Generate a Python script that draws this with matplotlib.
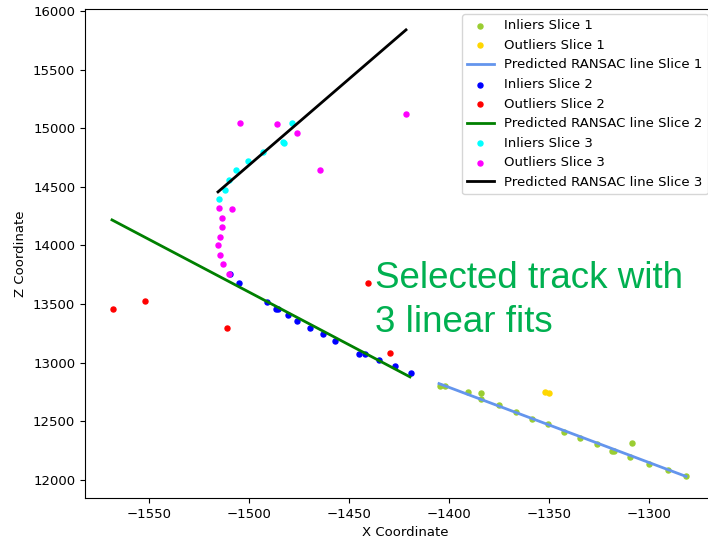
import matplotlib
matplotlib.use("Agg")
import matplotlib.pyplot as plt

# slice 1
in1_x = [-1404.5, -1402, -1390.5, -1384, -1384, -1375, -1366.5, -1358.5, -1350.5, -1342.5,
         -1334.5, -1326, -1318.5, -1317.5, -1309.5, -1308.5, -1300, -1290.5, -1281.5]
in1_z = [12802, 12800, 12751, 12745, 12691, 12640, 12580, 12520, 12478, 12410,
         12358, 12307, 12247, 12250, 12196, 12316, 12137, 12085, 12034]
out1_x = [-1352, -1350]
out1_z = [12751, 12745]
line1_x = [-1405, -1281.5]
line1_z = [12822, 12030]

# slice 2
in2_x = [-1509.5, -1505, -1491, -1486.5, -1485.5, -1480.5, -1476, -1469.5, -1463, -1457,
         -1445, -1442, -1435, -1427, -1419]
in2_z = [13757, 13680, 13518, 13459, 13459, 13407, 13356, 13297, 13245, 13186,
         13075, 13075, 13024, 12972, 12913]
out2_x = [-1568, -1552, -1511, -1440.5, -1429.5]
out2_z = [13459, 13527, 13297, 13680, 13083]
line2_x = [-1568.5, -1419.5]
line2_z = [14218, 12879]

# slice 3
in3_x = [-1478.5, -1483, -1482.5, -1493, -1500.5, -1506.5, -1510, -1512, -1515]
in3_z = [15045, 14883, 14870, 14798, 14721, 14644, 14559, 14474, 14397]
out3_x = [-1504.5, -1486, -1476, -1464.5, -1421.5, -1515, -1508.5, -1513.5, -1513.5,
          -1514.5, -1515.5, -1514.5, -1513, -1510]
out3_z = [15045, 15037, 14960, 14644, 15122, 14320, 14312, 14235, 14158,
          14073, 14005, 13919, 13842, 13757]
line3_x = [-1515.5, -1421.5]
line3_z = [14457, 15839]

plt.rcParams['font.size'] = 9.5

fig = plt.figure(figsize=(7.08, 5.4), dpi=100)
# the original screenshot cuts the right edge of the axes off
ax = fig.add_axes([85 / 708, 42 / 540, 640 / 708, 489 / 540])

s = 13
ax.scatter(in1_x, in1_z, s=s, color='yellowgreen', label='Inliers Slice 1')
ax.scatter(out1_x, out1_z, s=s, color='gold', label='Outliers Slice 1')
ax.plot(line1_x, line1_z, color='cornflowerblue', linewidth=2, label='Predicted RANSAC line Slice 1')
ax.scatter(in2_x, in2_z, s=s, color='blue', label='Inliers Slice 2')
ax.scatter(out2_x, out2_z, s=s, color='red', label='Outliers Slice 2')
ax.plot(line2_x, line2_z, color='green', linewidth=2, label='Predicted RANSAC line Slice 2')
ax.scatter(in3_x, in3_z, s=s, color='cyan', label='Inliers Slice 3')
ax.scatter(out3_x, out3_z, s=s, color='magenta', label='Outliers Slice 3')
ax.plot(line3_x, line3_z, color='black', linewidth=2, label='Predicted RANSAC line Slice 3')

ax.set_xlim(-1582, -1262)
ax.set_ylim(11846, 16017)
ax.set_xlabel('X Coordinate')
ax.set_ylabel('Z Coordinate')
ax.legend(loc='upper left', bbox_to_anchor=((462 - 85) / 640, 1 - 5 / 489), borderaxespad=0)

fig.text(375 / 708, 1 - 261 / 540, 'Selected track with\n3 linear fits',
         color='#00B050', fontsize=26.5, family='Liberation Sans', va='top', ha='left',
         linespacing=1.33)

fig.savefig('out.png', dpi=100)
